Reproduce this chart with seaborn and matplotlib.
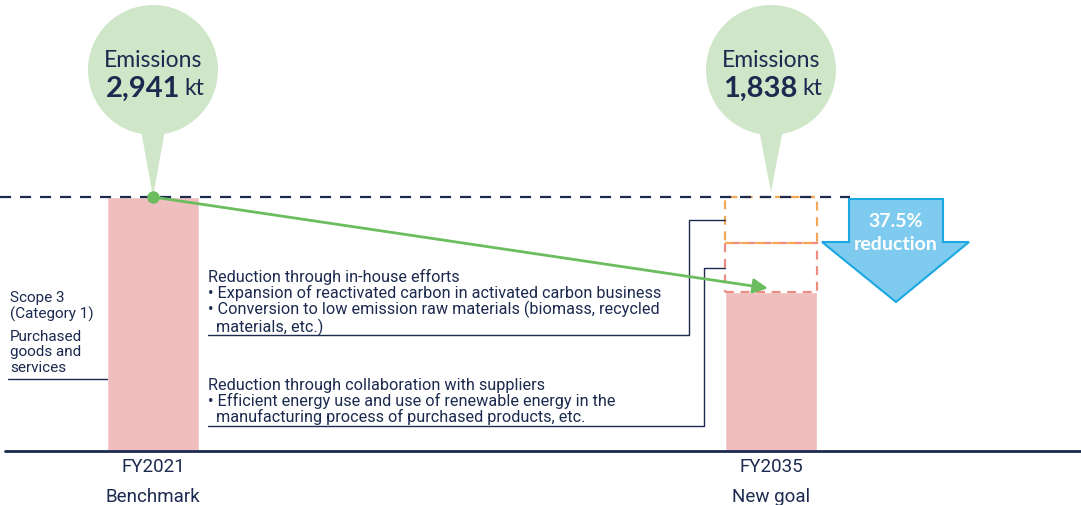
import matplotlib.pyplot as plt
import matplotlib.patches as mpatches
import seaborn as sns

# Data
categories = ["FY2021", "FY2035"]
sublabels = ["Benchmark", "New goal"]
emissions = [2941, 1838]  # kt
inhouse_cut = 531          # kt, upper dashed segment
supplier_cut = 572         # kt, lower dashed segment
reduction_pct = 37.5

scope_label = "Scope 3\n(Category 1)"
scope_desc = "Purchased\ngoods and\nservices"
inhouse_text = ("Reduction through in-house efforts\n"
                "• Expansion of reactivated carbon in activated carbon business\n"
                "• Conversion to low emission raw materials (biomass, recycled\n"
                "  materials, etc.)")
supplier_text = ("Reduction through collaboration with suppliers\n"
                 "• Efficient energy use and use of renewable energy in the\n"
                 "  manufacturing process of purchased products, etc.")

NAVY = "#1b2a4e"
PINK = "#efbfbf"
GREEN = "#6cbd5f"
BUBBLE = "#cfe6c9"

# pixel layout helpers (figure is 1081x506 px)
X0_PX, X_SCALE = 153, 618           # category 0 centre, px per category
BASE_PX, Y_SCALE = 452, 254 / 2941  # baseline row, px per kt


def px_x(p):
    return (p - X0_PX) / X_SCALE


def px_y(p):
    return (BASE_PX - p) / Y_SCALE


sns.set_theme(style="white")
plt.rcParams['font.family'] = ['DejaVu Sans']

fig = plt.figure(figsize=(10.81, 5.06), dpi=100)
ax = fig.add_axes([0, 0, 1, 1])

# Bars
sns.barplot(x=categories, y=emissions, color=PINK, width=92 / X_SCALE,
            saturation=1, ax=ax, zorder=2)
ax.set_xlim(px_x(0), px_x(1081))
ax.set_ylim(px_y(506), px_y(0))
ax.axis('off')

# Dashed reduction segments on the goal bar
seg_bottom = emissions[1]
ax.bar(1, supplier_cut, bottom=seg_bottom, width=92 / X_SCALE, fill=False,
       edgecolor="#ee8c80", linestyle=(0, (4, 3)), linewidth=1.6, zorder=3)
ax.bar(1, inhouse_cut, bottom=seg_bottom + supplier_cut, width=92 / X_SCALE,
       fill=False, edgecolor="#f3a857", linestyle=(0, (4, 3)), linewidth=1.6,
       zorder=3)

# Baseline and benchmark level line
ax.plot([px_x(5), px_x(1081)], [0, 0], color=NAVY, lw=2, zorder=4)
ax.plot([px_x(0), px_x(850)], [emissions[0]] * 2, color=NAVY, lw=1.6,
        linestyle=(0, (5, 4)), zorder=4)

# Green trajectory arrow
ax.annotate('', xy=(px_x(768), emissions[1] + 4 / Y_SCALE),
            xytext=(0, emissions[0]),
            arrowprops=dict(arrowstyle='-|>', color=GREEN, lw=2,
                            mutation_scale=22, shrinkA=0, shrinkB=0),
            zorder=6)
ax.plot(0, emissions[0], 'o', color=GREEN, ms=8, zorder=7)

# Emission bubbles
tips = [emissions[0], emissions[0] + 5 / Y_SCALE]
for i, (val, tip) in enumerate(zip(emissions, tips)):
    cx = i
    cy = px_y(71)
    r = 65
    ax.add_patch(mpatches.Ellipse((cx, cy), 2 * r / X_SCALE, 2 * r / Y_SCALE,
                                  color=BUBBLE, zorder=5, lw=0))
    ax.add_patch(mpatches.Polygon(
        [(cx - 14 / X_SCALE, px_y(120)), (cx + 14 / X_SCALE, px_y(120)),
         (cx, tip)], closed=True, color=BUBBLE, zorder=5, lw=0))
    ax.text(cx, px_y(61), "Emissions", ha='center', va='center',
            fontsize=16.5, color=NAVY, family='Lato', zorder=8)
    ax.text(cx + 27 / X_SCALE, px_y(89), f"{val:,}", ha='right', va='center',
            fontsize=21, fontweight='bold', color=NAVY, family='Lato',
            zorder=8)
    ax.text(cx + 31 / X_SCALE, px_y(89), "kt", ha='left', va='center',
            fontsize=16.5, color=NAVY, family='Lato', zorder=8)

# Category labels
for i, (cat, sub) in enumerate(zip(categories, sublabels)):
    ax.text(i, px_y(467), cat, ha='center', va='center', fontsize=13.5,
            color=NAVY, family='Roboto')
    ax.text(i, px_y(497), sub, ha='center', va='center', fontsize=13.5,
            color=NAVY, family='Roboto')

# Scope 3 labels
ax.text(px_x(10), px_y(291), scope_label, ha='left', va='top', fontsize=11,
        color=NAVY, family='Roboto', linespacing=1.1)
ax.text(px_x(10), px_y(330), scope_desc, ha='left', va='top', fontsize=11,
        color=NAVY, family='Roboto', linespacing=1.12)
ax.plot([px_x(8), px_x(107)], [px_y(380)] * 2, color=NAVY, lw=1)

# Reduction descriptions and connectors
ax.text(px_x(208), px_y(269), inhouse_text, ha='left', va='top',
        fontsize=11.7, color=NAVY, family='Roboto', linespacing=1.0)
ax.text(px_x(208), px_y(378), supplier_text, ha='left', va='top',
        fontsize=11.7, color=NAVY, family='Roboto', linespacing=1.0)

top_mid = seg_bottom + supplier_cut + inhouse_cut / 2
low_mid = seg_bottom + supplier_cut / 2
bar_left = 1 - 46 / X_SCALE
ax.plot([px_x(208), px_x(689), px_x(689), bar_left],
        [px_y(336), px_y(336), top_mid, top_mid], color=NAVY, lw=1, zorder=4)
ax.plot([px_x(208), px_x(704), px_x(704), bar_left],
        [px_y(427), px_y(427), low_mid, low_mid], color=NAVY, lw=1, zorder=4)

# Big reduction arrow
top = emissions[0] - 2 / Y_SCALE
neck = px_y(243)
tip_y = px_y(303)
arrow_pts = [(px_x(849), top), (px_x(943), top), (px_x(943), neck),
             (px_x(969), neck), (px_x(896), tip_y), (px_x(822), neck),
             (px_x(849), neck)]
ax.add_patch(mpatches.Polygon(arrow_pts, closed=True, facecolor="#7fcbef",
                              edgecolor="#1ba7e1", lw=1.5, zorder=5))
ax.text(px_x(896), px_y(222), f"{reduction_pct}%", ha='center', va='center',
        fontsize=14, fontweight='bold', color='white', family='Lato',
        zorder=6)
ax.text(px_x(896), px_y(245), "reduction", ha='center', va='center',
        fontsize=14, fontweight='bold', color='white', family='Lato',
        zorder=6)

plt.savefig('out.png', dpi=100)
